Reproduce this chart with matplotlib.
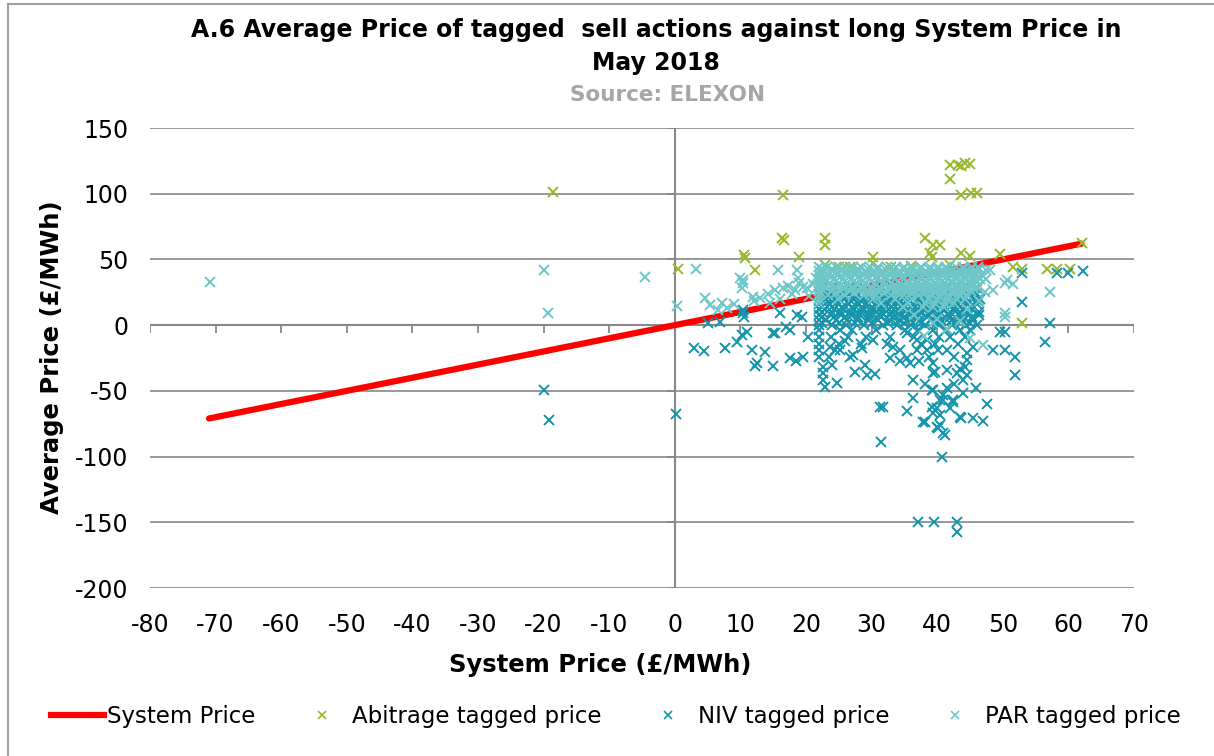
import matplotlib
matplotlib.use("Agg")
import matplotlib.pyplot as plt
from matplotlib.lines import Line2D

# ---------------- data ----------------
system_price = [-71.0, 62.0]

abit_points = [(-18.6, 101), (0.5, 43), (10.5, 53), (10.7, 51), (12.3, 42), (16.5, 99),
               (16.4, 66), (16.6, 65), (18.9, 52), (22.9, 66), (22.9, 61), (22.9, 46),
               (25.1, 44), (26.7, 44), (30.2, 52), (30.2, 47), (38.1, 66), (39.4, 61),
               (40.4, 61), (38.9, 55), (39.2, 52), (43.7, 55), (45.0, 52.5), (41.9, 122),
               (43.1, 122), (43.6, 121), (44.2, 123), (45.0, 122.5), (41.9, 111), (43.7, 99),
               (45.2, 100.6), (46.0, 100.6), (49.5, 54), (51.6, 44), (52.9, 43), (56.7, 43),
               (58.2, 43), (60.2, 43), (62.0, 62.4), (52.9, 1.5), (33.0, 44), (36.0, 45),
               (42.0, 46), (28.0, 43)]

niv_scatter = [(-20, -49.5), (-19.2, -72), (0.2, -67.7),
               (3, -17.5), (4.4, -19.5), (7.7, -17.5), (11.7, -19), (13.7, -20.5), (12.3, -31),
               (15, -31), (17.5, -25), (19.5, -24), (18.5, -27), (9.5, -13), (10.2, -7.6),
               (11, -5), (15, -6), (17.5, -4), (5, 1.5), (6.9, 2.4), (10.4, 9), (10.4, 11.4),
               (10.6, 6), (16, 9), (18.7, 7.6), (19.4, 6), (17, -1.5), (20.3, -9), (12.5, -29),
               (15.2, -6), (22.6, -42), (22.9, -47), (24.8, -44), (22.6, -32), (22.6, -36.5),
               (29.3, -38), (30.5, -37), (31.3, -62), (31.4, -89), (35.4, -65), (36.3, -42),
               (36.3, -55.5), (37.8, -74), (39.3, -49.5), (39.3, -67), (40.4, -57), (40.4, -68.5),
               (40.9, -82), (40.7, -100), (39.9, -77.6), (42.4, -58.6), (43.7, -70.8),
               (45.4, -70.8), (39.3, -36.5), (43, -36.5), (43.9, -42), (44.5, -26.6), (44.2, -32),
               (35.8, -29), (35.4, -25), (32.8, -25), (33.2, -16.7), (32.3, -14), (26.7, -24),
               (25.2, -19), (23.6, -16.7), (28.5, -17.5), (27.1, -23), (36.9, -11.4),
               (38.4, -11.4), (38.4, -19), (39.3, -29), (41.5, -34), (40.9, -53), (39.9, -63),
               (40.4, -76), (39.2, -62), (41.2, -83.7), (40.1, -78.5), (38.1, -73.5), (47.6, -60),
               (47, -73), (43.4, -70), (42.4, -57), (40.9, -57), (44.5, -38), (43.4, -33),
               (39.2, -49.5), (39.6, -35.6), (51.8, -38), (51.8, -24), (50.3, -19), (48.5, -19),
               (50.3, -5), (49.6, -5), (56.4, -13), (57.2, 1.5), (52.9, 17.5), (53, 40),
               (58.3, 40), (60, 39.6), (62.2, 41), (45.4, -16.7), (41.5, -19), (44.5, -21),
               (37.3, -27), (34.3, -27), (32.8, -9), (37, -150), (39.5, -150), (43, -150),
               (43, -157.5), (31.7, -62), (29, -30), (24, -30), (27.5, -36), (26, -12),
               (30.2, -11), (35.4, -6), (42.5, -45), (41.5, -48), (45.9, -48), (38.2, -45),
               (42, -63), (44, -52)]

niv_rows = [
    (28, [22.3, 24.0, 26.5, 29.0, 31.5, 34.0, 36.5, 39.0, 41.5, 44.0, 46.0]),
    (24, [22, 23.5, 25.0, 26.5, 28.0, 29.5, 31.0, 32.5, 34.0, 35.5, 37.0, 38.5, 40.0, 41.5, 43.0, 44.5, 46.0]),
    (22, [22.5, 24.2, 25.7, 27.3, 28.8, 30.4, 31.9, 33.4, 34.9, 36.4, 37.9, 39.4, 40.9, 42.4, 43.9, 45.4]),
    (20, [22, 23.0, 24.4, 25.8, 27.2, 28.6, 30.0, 31.4, 32.8, 34.2, 35.6, 37.0, 38.4, 39.8, 41.2, 42.6, 44.0, 45.4, 46.5]),
    (18, [22.4, 23.9, 25.4, 26.9, 28.4, 29.9, 31.4, 32.9, 34.4, 35.9, 37.4, 38.9, 40.4, 41.9, 43.4, 44.9, 46.2]),
    (16, [22, 23.6, 25.1, 26.6, 28.1, 29.6, 31.1, 32.6, 34.1, 35.6, 37.1, 38.6, 40.1, 41.6, 43.1, 44.6, 46.1]),
    (14, [22.5, 24.0, 25.5, 27.0, 28.5, 30.0, 31.5, 33.0, 34.5, 36.0, 37.5, 39.0, 40.5, 42.0, 43.5, 45.0]),
    (12, [22, 22.9, 24.3, 25.7, 27.1, 28.5, 29.9, 31.3, 32.7, 34.1, 35.5, 36.9, 38.3, 39.7, 41.1, 42.5, 43.9, 45.3]),
    (10, [22.4, 23.9, 25.4, 26.9, 28.4, 29.9, 31.4, 32.9, 34.4, 35.9, 37.4, 38.9, 40.4, 41.9, 43.4, 44.9, 46.4]),
    (8, [22, 23.8, 25.3, 26.8, 28.3, 29.8, 31.3, 32.8, 34.3, 35.8, 37.3, 38.8, 40.3, 41.8, 43.3, 44.8, 46.3]),
    (6, [22.5, 24.3, 26.0, 27.9, 29.6, 31.5, 33.2, 35.0, 36.7, 38.4, 40.1, 41.9, 43.6, 45.3]),
    (4, [22, 23.1, 24.6, 26.2, 27.7, 29.4, 31.0, 32.6, 34.2, 35.8, 37.4, 39.0, 40.6, 42.2, 43.8, 45.4]),
    (2, [22.4, 25.0, 27.5, 30.0, 32.5, 35.0, 37.5, 40.0, 42.5, 45.0]),
    (0, [22, 24.0, 26.1, 28.9, 31.8, 33.9, 36.0, 38.1, 40.2, 42.3, 44.4, 46.0]),
    (-4, [22, 25.2, 27.0, 30.6, 35.1, 37.0, 39.4, 41.3, 43.5, 45.0]),
    (-9, [22, 23.8, 26.4, 29.2, 36.4, 40.2, 42.0, 44.2]),
    (-14, [22, 25.0, 28.4, 37.6, 39.6, 43.2]),
    (-19, [22, 24.4, 34.3, 36.9, 40.1]),
    (-24, [22, 23.5, 38.8, 42.5]),
]

par_scatter = [(-70.9, 32.7), (-20, 41.8), (-19.3, 9), (-4.6, 36.5), (0.3, 14.5), (3.2, 42.6),
               (4.6, 20.5), (5.3, 15), (6.6, 11.4), (8, 13), (9.9, 36), (10.4, 32), (10.2, 28),
               (10.4, 34), (11.9, 21.5), (13, 20.5), (14.2, 24), (15.7, 42), (15.2, 26.6),
               (16.5, 28), (17.2, 30), (17.8, 24), (18.6, 42), (19, 32), (19.5, 29), (20.1, 28),
               (18.3, 26.6), (18.8, 36), (14.5, 17), (16, 20), (9, 16), (7.2, 17), (12, 18),
               (20.5, 22), (21, 31), (21.5, 36), (36.5, 8), (39.3, 1.5), (40, 5), (41.5, -3),
               (38, -8), (43.5, 3), (45, -10), (47, -15), (44.6, 12), (46.3, 18), (47.3, 25),
               (48.5, 27), (48, 42), (50.3, 32), (51.5, 31), (50.6, 34), (50.3, 9), (50.3, 6),
               (57.2, 25), (46.8, 38), (47.5, 35), (47.5, 42)]

par_rows = [
    (44, [22, 23.2, 24.6, 25.9, 27.1, 28.4, 29.8, 31.0, 32.3, 33.7, 35.0, 36.2, 37.5, 38.9, 40.1, 41.4, 42.8, 44.0, 45.3, 46.2]),
    (42.5, [22.5, 23.9, 25.3, 26.7, 28.0, 29.4, 30.8, 32.1, 33.4, 34.8, 36.1, 37.4, 38.7, 40.0, 41.3, 42.6, 43.9, 45.2, 46.4]),
    (41, [22, 22.7, 24.0, 25.3, 26.6, 27.9, 29.2, 30.5, 31.8, 33.1, 34.4, 35.7, 37.0, 38.3, 39.6, 40.9, 42.2, 43.5, 44.8, 46.0]),
    (39.5, [22.4, 23.7, 25.1, 26.4, 27.8, 29.1, 30.4, 31.8, 33.2, 34.5, 35.9, 37.3, 38.6, 40.0, 41.3, 42.7, 44.0, 45.4]),
    (38, [22, 23.4, 24.8, 26.1, 27.5, 28.8, 30.1, 31.5, 32.8, 34.1, 35.5, 36.8, 38.1, 39.4, 40.8, 42.1, 43.4, 44.7, 45.9]),
    (36.5, [22.5, 23.8, 25.2, 26.5, 27.9, 29.3, 30.6, 32.0, 33.3, 34.7, 36.0, 37.3, 38.7, 40.0, 41.4, 42.7, 44.0, 45.3, 46.3]),
    (35, [22, 22.9, 24.3, 25.6, 26.9, 28.2, 29.6, 30.9, 32.2, 33.6, 34.9, 36.2, 37.6, 38.9, 40.2, 41.6, 42.9, 44.2, 45.5, 46.5]),
    (33.5, [22.3, 23.1, 24.6, 26.0, 27.3, 28.6, 30.0, 31.3, 32.7, 34.0, 35.4, 36.7, 38.1, 39.4, 40.7, 42.1, 43.4, 44.8, 46.0]),
    (32, [22, 23.6, 25.0, 26.3, 27.7, 29.0, 30.3, 31.7, 33.0, 34.4, 35.7, 37.1, 38.4, 39.8, 41.1, 42.4, 43.8, 45.1]),
    (30.5, [22.5, 23.9, 25.3, 26.6, 28.0, 29.3, 30.7, 32.0, 33.4, 34.7, 36.0, 37.4, 38.7, 40.1, 41.4, 42.8, 44.1, 45.5]),
    (29, [22, 23.1, 24.5, 25.8, 27.2, 28.5, 29.9, 31.2, 32.6, 33.9, 35.3, 36.6, 38.0, 39.3, 40.7, 42.0, 43.4, 44.7, 46.0]),
    (27.5, [22.4, 24.1, 25.6, 27.0, 28.4, 30.0, 31.4, 32.9, 34.3, 35.8, 37.2, 38.6, 40.0, 41.5, 42.9, 44.3, 45.6]),
    (26, [22, 23.8, 25.2, 26.7, 28.1, 29.6, 31.0, 32.4, 33.8, 35.2, 36.6, 38.0, 39.5, 40.9, 42.3, 43.7, 45.1]),
    (24.5, [22.3, 24.6, 27.3, 29.8, 31.9, 34.0, 36.0, 38.2, 39.7, 41.1, 42.6, 44.0]),
    (23, [22, 23.3, 26.0, 28.8, 30.7, 32.9, 35.0, 37.3, 39.0, 40.4, 41.8, 43.3, 44.6]),
    (20, [22, 24.9, 30.2, 33.5, 36.1, 38.6, 40.0, 41.5, 43.0, 44.2]),
    (17, [22, 31.5, 35.6, 38.2, 39.7, 41.2, 42.6]),
    (14, [34.8, 37.9, 39.4, 41.0]),
]

x_ticks = list(range(-80, 71, 10))
y_ticks = list(range(-200, 151, 50))

# ---------------- helpers ----------------
def unzip(points):
    return [p[0] for p in points], [p[1] for p in points]

def rows_to_xy(rows):
    xs, ys = [], []
    for y, row in rows:
        for x in row:
            xs.append(x)
            ys.append(y)
    return xs, ys

abit_x, abit_y = unzip(abit_points)
nx1, ny1 = unzip(niv_scatter)
nx2, ny2 = rows_to_xy(niv_rows)
niv_x, niv_y = nx2 + nx1, ny2 + ny1
px1, py1 = unzip(par_scatter)
px2, py2 = rows_to_xy(par_rows)
par_x, par_y = px2 + px1, py2 + py1

# ---------------- style ----------------
RED = "#FF0000"
GREEN = "#98B92E"
NIV = "#1594AB"
PAR = "#6EC6C8"
GRID = "#888888"

plt.rcParams["font.family"] = ["DejaVu Sans"]
plt.rcParams["axes.unicode_minus"] = False

fig = plt.figure(figsize=(12.14, 7.56), dpi=100)
W, H = 1214, 756
ax = fig.add_axes([150 / W, 1 - 588 / H, 984 / W, 460 / H])
ax.set_xlim(-80, 70)
ax.set_ylim(-200, 150)
ax.set_xticks(x_ticks)
ax.set_yticks(y_ticks)
for s in ax.spines.values():
    s.set_visible(False)
ax.tick_params(axis="both", length=0, labelsize=17)
ax.tick_params(axis="x", pad=18)
ax.tick_params(axis="y", pad=15.5)
ax.yaxis.grid(True, color=GRID, lw=1.2)
ax.set_axisbelow(True)

# axes crossing at zero: thin span patch + line, plus tick marks as line collections
ax.axvspan(-0.13, 0.13, color=GRID, lw=0, zorder=1.4)
ax.axvline(0, color=GRID, lw=1.5, zorder=1.5)
ax.axhline(0, color=GRID, lw=1.5, zorder=1.5)
ax.vlines(x_ticks, -6, 0, colors=GRID, lw=1.3, zorder=1.5)
ax.hlines(y_ticks, -1.2, 0, colors=GRID, lw=1.3, zorder=1.5)

mk = dict(ls="none", marker="x", ms=7.5, mew=1.4)
ax.plot(system_price, system_price, color=RED, lw=4.5, solid_capstyle="round", zorder=2)
ax.plot(abit_x, abit_y, color=GREEN, zorder=3, **mk)
ax.plot(niv_x, niv_y, color=NIV, zorder=4, **mk)
ax.plot(par_x, par_y, color=PAR, zorder=5, **mk)

# titles and labels
fig.text(656 / W, 1 - 30 / H, "A.6 Average Price of tagged  sell actions against long System Price in",
         ha="center", va="center", fontsize=17, fontweight="bold")
fig.text(656 / W, 1 - 63 / H, "May 2018", ha="center", va="center",
         fontsize=17, fontweight="bold")
fig.text(668 / W, 1 - 95 / H, "Source: ELEXON", ha="center", va="center",
         fontsize=15.5, fontweight="bold", color="#A6A6A6")
fig.text(52 / W, 1 - 357 / H, "Average Price (£/MWh)", rotation=90, ha="center",
         va="center", fontsize=17.5, fontweight="bold")
fig.text(600 / W, 1 - 665 / H, "System Price (£/MWh)", ha="center", va="center",
         fontsize=17.5, fontweight="bold")

# legend
handles = [
    Line2D([], [], color=RED, lw=4.5),
    Line2D([], [], color=GREEN, ls="none", marker="x", ms=6, mew=1.2),
    Line2D([], [], color=NIV, ls="none", marker="x", ms=6, mew=1.2),
    Line2D([], [], color=PAR, ls="none", marker="x", ms=6, mew=1.2),
]
labels = ["System Price", "Abitrage tagged price", "NIV tagged price", "PAR tagged price"]
fig.legend(handles, labels, loc="center", bbox_to_anchor=(616 / W, 1 - 717 / H), ncol=4,
           frameon=False, fontsize=16.5, handlelength=2.3, handletextpad=0.15,
           columnspacing=1.75, numpoints=1)

# outer border
border_kw = dict(color="#A0A0A0", lw=1.5, transform=fig.transFigure)
fig.add_artist(Line2D([8 / W, 8 / W], [0, 1 - 4 / H], **border_kw))
fig.add_artist(Line2D([8 / W, 1], [1 - 4 / H, 1 - 4 / H], **border_kw))

fig.savefig("out.png", dpi=100)
